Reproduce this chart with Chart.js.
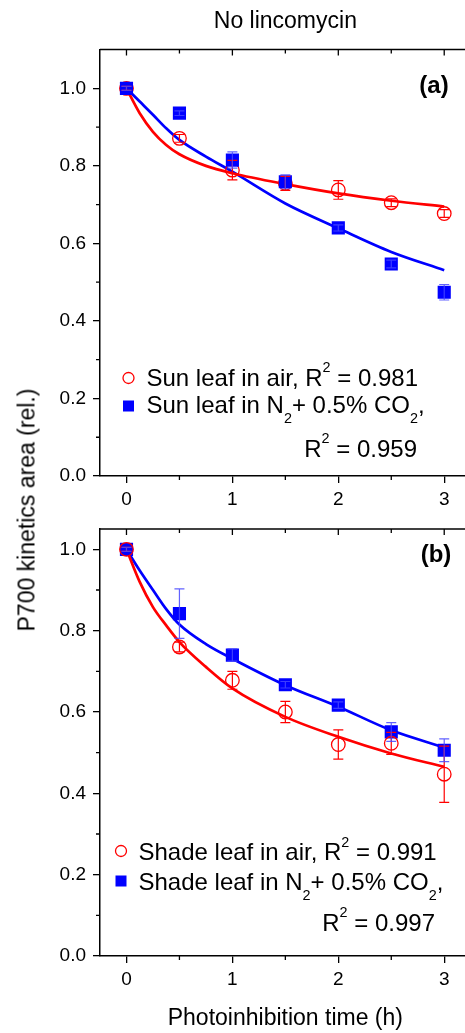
<!DOCTYPE html>
<html>
<head>
<meta charset="utf-8">
<script src="https://cdn.jsdelivr.net/npm/chart.js@4.4.1/dist/chart.umd.min.js"></script>
<style>
html, body { margin: 0; padding: 0; background: #fff; overflow: hidden; }
#wrap { position: relative; width: 465px; height: 1033px; overflow: hidden; }
canvas { position: absolute; left: 0; }
#chartA { top: 0; }
#chartB { top: 500px; }
#ytitle { position: absolute; left: 27px; top: 510px; transform: translate(-50%, -50%) rotate(-90deg);
  font: 23px "Liberation Sans", Arial, sans-serif; white-space: nowrap; color: #000; }
</style>
</head>
<body>
<div id="wrap">
  <canvas id="chartA" width="480" height="520"></canvas>
  <canvas id="chartB" width="480" height="533"></canvas>
  <div id="ytitle">P700 kinetics area (rel.)</div>
</div>
<script>
const FONT = '"Liberation Sans", Arial, sans-serif';

// measured points
const timeH = [0, 0.5, 1, 1.5, 2, 2.5, 3];
const sunAir = [1.0, 0.871, 0.789, 0.755, 0.738, 0.705, 0.677];
const sunAirErr = [0.005, 0.010, 0.025, 0.018, 0.024, 0.010, 0.010];
const sunN2 = [1.0, 0.936, 0.815, 0.759, 0.640, 0.547, 0.474];
const sunN2Err = [0.005, 0.006, 0.021, 0.018, 0.008, 0.010, 0.020];
const shadeAir = [1.0, 0.760, 0.678, 0.600, 0.520, 0.523, 0.447];
const shadeAirErr = [0.005, 0.012, 0.022, 0.026, 0.036, 0.027, 0.069];
const shadeN2 = [1.0, 0.842, 0.740, 0.667, 0.617, 0.551, 0.506];
const shadeN2Err = [0.005, 0.061, 0.015, 0.008, 0.008, 0.023, 0.028];

// fitted curves
const fitX = [0, 0.125, 0.25, 0.375, 0.5, 0.75, 1, 1.5, 2, 2.5, 3];
const sunAirFit = [1.0, 0.936, 0.888, 0.854, 0.830, 0.800, 0.781, 0.753, 0.729, 0.710, 0.695];
const sunN2Fit = [1.0, 0.966, 0.932, 0.897, 0.867, 0.824, 0.785, 0.703, 0.639, 0.578, 0.531];
const shadeAirFit = [1.0, 0.920, 0.858, 0.813, 0.772, 0.711, 0.658, 0.588, 0.539, 0.498, 0.465];
const shadeN2Fit = [1.0, 0.948, 0.900, 0.853, 0.815, 0.767, 0.731, 0.666, 0.613, 0.555, 0.513];

// ticks
const xMajor = [0, 1, 2, 3];
const xMinor = [0.5, 1.5, 2.5];
const yMajor = [0, 0.2, 0.4, 0.6, 0.8, 1.0];
const yMinor = [0.1, 0.3, 0.5, 0.7, 0.9];

const RED = '#ff0000';
const BLUE = '#0000ff';

function pts(xs, ys) {
  return xs.map((x, i) => ({ x: x, y: ys[i] }));
}

function drawRich(ctx, parts, x, y, align) {
  const base = 24;
  const segs = parts.map(p => {
    const size = p.s ? base * 0.6 : base;
    ctx.font = size + 'px ' + FONT;
    return { t: p.t, size: size, dy: p.s === 'sup' ? -base * 0.55 : (p.s === 'sub' ? base * 0.42 : 0), w: ctx.measureText(p.t).width };
  });
  const total = segs.reduce((a, s) => a + s.w, 0);
  let cx = align === 'right' ? x - total : x;
  ctx.textAlign = 'left';
  ctx.textBaseline = 'alphabetic';
  ctx.fillStyle = '#000';
  segs.forEach(s => {
    ctx.font = s.size + 'px ' + FONT;
    ctx.fillText(s.t, cx, y + s.dy);
    cx += s.w;
  });
}

const framePlugin = {
  id: 'frame',
  afterDatasetsDraw(chart, args, opts) {
    const ctx = chart.ctx;
    const xs = chart.scales.x, ys = chart.scales.y;
    // error bars
    opts.errors.forEach(eb => {
      ctx.save();
      ctx.strokeStyle = eb.color;
      ctx.lineWidth = 1.2;
      eb.vals.forEach((v, i) => {
        const px = xs.getPixelForValue(timeH[i]);
        const y1 = ys.getPixelForValue(v + eb.err[i]);
        const y2 = ys.getPixelForValue(v - eb.err[i]);
        ctx.beginPath();
        ctx.moveTo(px, y1); ctx.lineTo(px, y2);
        ctx.moveTo(px - 5, y1); ctx.lineTo(px + 5, y1);
        ctx.moveTo(px - 5, y2); ctx.lineTo(px + 5, y2);
        ctx.stroke();
      });
      ctx.restore();
    });
  },
  afterDraw(chart, args, opts) {
    const ctx = chart.ctx;
    const a = chart.chartArea;
    const xs = chart.scales.x, ys = chart.scales.y;
    ctx.save();
    ctx.strokeStyle = '#000';
    ctx.lineWidth = 1.5;
    ctx.beginPath();
    ctx.moveTo(a.left, a.top); ctx.lineTo(a.right, a.top);
    ctx.stroke();
    ctx.lineWidth = 1.3;
    ctx.beginPath();
    yMinor.forEach(v => {
      const py = ys.getPixelForValue(v);
      ctx.moveTo(a.left - 4, py); ctx.lineTo(a.left, py);
    });
    xMinor.forEach(v => {
      const px = xs.getPixelForValue(v);
      ctx.moveTo(px, a.bottom); ctx.lineTo(px, a.bottom + 4);
      ctx.moveTo(px, a.top); ctx.lineTo(px, a.top + 4);
    });
    xMajor.forEach(v => {
      const px = xs.getPixelForValue(v);
      ctx.moveTo(px, a.top); ctx.lineTo(px, a.top + 6);
    });
    ctx.stroke();

    // panel letter
    ctx.font = 'bold 24px ' + FONT;
    ctx.fillStyle = '#000';
    ctx.textAlign = 'center';
    ctx.textBaseline = 'middle';
    ctx.fillText(opts.letter.text, opts.letter.x, opts.letter.y);

    // legend
    const lg = opts.legend;
    ctx.lineWidth = 1.3;
    ctx.strokeStyle = RED;
    ctx.beginPath();
    ctx.arc(lg.mx, lg.m1, 5.5, 0, Math.PI * 2);
    ctx.stroke();
    ctx.fillStyle = BLUE;
    ctx.fillRect(lg.mx - 5.5, lg.m2 - 5.5, 11, 11);
    drawRich(ctx, lg.rows[0], lg.tx, lg.b1, 'left');
    drawRich(ctx, lg.rows[1], lg.tx, lg.b2, 'left');
    drawRich(ctx, lg.rows[2], lg.rx, lg.b3, 'right');
    ctx.restore();
  }
};

function makePanel(id, cfg) {
  return new Chart(document.getElementById(id), {
    type: 'scatter',
    data: {
      datasets: [
        { data: pts(timeH, cfg.red), showLine: false, pointStyle: 'circle', pointRadius: 6.8, pointBorderWidth: 1.3,
          pointBorderColor: RED, pointBackgroundColor: 'rgba(0,0,0,0)', order: cfg.redOrder },
        { data: pts(timeH, cfg.blue), showLine: false, pointStyle: 'rect', pointRadius: 9.3, pointBorderWidth: 0,
          pointBorderColor: BLUE, pointBackgroundColor: BLUE, order: cfg.blueOrder },
        { data: pts(fitX, cfg.redFit), showLine: true, pointRadius: 0, borderColor: RED, borderWidth: 2.7,
          cubicInterpolationMode: 'monotone', fill: false, order: 3 },
        { data: pts(fitX, cfg.blueFit), showLine: true, pointRadius: 0, borderColor: BLUE, borderWidth: 2.7,
          cubicInterpolationMode: 'monotone', fill: false, order: 4 }
      ]
    },
    options: {
      responsive: false,
      animation: false,
      layout: { padding: { top: cfg.padTop, right: 8, left: 0, bottom: 0 } },
      plugins: {
        legend: { display: false },
        tooltip: { enabled: false },
        title: cfg.title,
        frame: {
          errors: [
            { vals: cfg.red, err: cfg.redErr, color: RED },
            { vals: cfg.blue, err: cfg.blueErr, color: 'rgba(70,70,255,0.85)' }
          ],
          letter: cfg.letter,
          legend: cfg.legend
        }
      },
      scales: {
        x: {
          type: 'linear', min: -0.25, max: 3.25,
          afterBuildTicks: s => { s.ticks = xMajor.map(v => ({ value: v })); },
          afterFit: s => { s.height = cfg.xHeight; },
          grid: { display: true, drawOnChartArea: false, drawTicks: true, tickLength: 7, color: '#000', tickColor: '#000', lineWidth: 1.3 },
          border: { display: true, color: '#000', width: 1.5 },
          ticks: { padding: 5, color: '#000', font: { size: 19, family: FONT }, callback: v => v.toFixed(0) },
          title: cfg.xTitle
        },
        y: {
          type: 'linear', min: 0, max: cfg.yMax,
          afterBuildTicks: s => { s.ticks = yMajor.map(v => ({ value: v })); },
          afterFit: s => { s.width = 100; },
          grid: { display: true, drawOnChartArea: false, drawTicks: true, tickLength: 7, color: '#000', tickColor: '#000', lineWidth: 1.3 },
          border: { display: true, color: '#000', width: 1.5 },
          ticks: { padding: 7, color: '#000', font: { size: 19, family: FONT }, callback: v => v.toFixed(1) }
        }
      }
    },
    plugins: [framePlugin]
  });
}

makePanel('chartA', {
  red: sunAir, redErr: sunAirErr, blue: sunN2, blueErr: sunN2Err,
  redFit: sunAirFit, blueFit: sunN2Fit,
  redOrder: 1, blueOrder: 0,
  yMax: 1.1, padTop: 0, xHeight: 44,
  title: { display: true, text: 'No lincomycin', fullSize: false, color: '#000',
    font: { size: 23, family: FONT, weight: 'normal' }, padding: { top: 8, bottom: 14 } },
  xTitle: { display: false },
  letter: { text: '(a)', x: 434, y: 86 },
  legend: {
    mx: 128.5, m1: 378, m2: 406, tx: 146.5, rx: 417, b1: 385.5, b2: 413, b3: 456.5,
    rows: [
      [{ t: 'Sun leaf in air, R' }, { t: '2', s: 'sup' }, { t: ' = 0.981' }],
      [{ t: 'Sun leaf in N' }, { t: '2', s: 'sub' }, { t: '+ 0.5% CO' }, { t: '2', s: 'sub' }, { t: ',' }],
      [{ t: 'R' }, { t: '2', s: 'sup' }, { t: ' = 0.959' }]
    ]
  }
});

makePanel('chartB', {
  red: shadeAir, redErr: shadeAirErr, blue: shadeN2, blueErr: shadeN2Err,
  redFit: shadeAirFit, blueFit: shadeN2Fit,
  redOrder: 0, blueOrder: 1,
  yMax: 1.05, padTop: 29, xHeight: 77,
  title: { display: false },
  xTitle: { display: true, text: 'Photoinhibition time (h)', color: '#000',
    font: { size: 23, family: FONT }, padding: { top: 0, bottom: 1 } },
  letter: { text: '(b)', x: 436, y: 55.5 },
  legend: {
    mx: 121, m1: 351, m2: 381, tx: 138.5, rx: 435, b1: 360, b2: 389.5, b3: 430.5,
    rows: [
      [{ t: 'Shade leaf in air, R' }, { t: '2', s: 'sup' }, { t: ' = 0.991' }],
      [{ t: 'Shade leaf in N' }, { t: '2', s: 'sub' }, { t: '+ 0.5% CO' }, { t: '2', s: 'sub' }, { t: ',' }],
      [{ t: 'R' }, { t: '2', s: 'sup' }, { t: ' = 0.997' }]
    ]
  }
});
</script>
</body>
</html>
